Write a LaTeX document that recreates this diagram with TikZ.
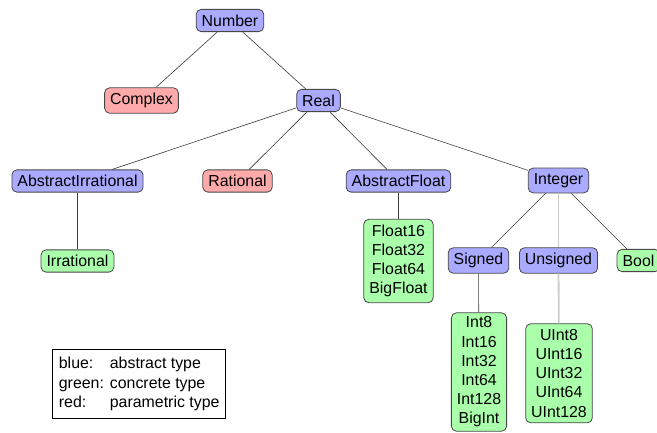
\documentclass[tikz,border=0pt]{standalone}
\usepackage{fontspec}
\setmainfont{Liberation Sans}
\definecolor{cblue}{HTML}{AAAAFF}
\definecolor{cgreen}{HTML}{AAFFAA}
\definecolor{cred}{HTML}{FFAAAA}
\definecolor{cborder}{HTML}{474747}
\definecolor{cedge}{HTML}{3A3A3A}
\definecolor{clight}{HTML}{CCCCCC}
\begin{document}
\begin{tikzpicture}[x=1pt,y=-1pt,
  font=\fontsize{15.9}{19.2}\selectfont,
  typ/.style={draw=cborder, line width=0.8pt, rounded corners=5pt, inner xsep=5.5pt, inner ysep=5.3pt, align=center},
  abs/.style={typ, fill=cblue},
  con/.style={typ, fill=cgreen},
  par/.style={typ, fill=cred},
  edge/.style={draw=cedge, line width=0.6pt},
  ledge/.style={draw=clight, line width=1.8pt}]
\useasboundingbox (0,0) rectangle (657,433);
\node[abs] (number) at (230,20.5) {Number};
\node[par] (complex) at (141.5,100.5) {Complex};
\node[abs] (real) at (318.5,100.5) {Real};
\node[abs] (airr) at (77.5,181) {AbstractIrrational};
\node[par] (rational) at (237.5,181) {Rational};
\node[abs] (afloat) at (398.5,181) {AbstractFloat};
\node[abs] (integer) at (558.5,180.5) {Integer};
\node[con] (irr) at (77.5,261) {Irrational};
\node[con, inner ysep=5.5pt] (floats) at (398.5,261) {Float16\\Float32\\Float64\\BigFloat};
\node[abs] (signed) at (478.5,260.5) {Signed};
\node[abs] (unsigned) at (558.5,260.5) {Unsigned};
\node[con] (bool) at (638.5,260.5) {Bool};
\node[con, inner ysep=4pt] (ints) at (479,372) {Int8\\Int16\\Int32\\Int64\\Int128\\BigInt};
\node[con, inner ysep=5.5pt] (uints) at (559,373.3) {UInt8\\UInt16\\UInt32\\UInt64\\UInt128};
\node[draw=black, line width=1.2pt, align=left, inner xsep=6.3pt, inner ysep=7.8pt, anchor=north west] (legend) at (52,349)
  {\makebox[51pt][l]{blue:}abstract type\\\makebox[51pt][l]{green:}concrete type\\\makebox[51pt][l]{red:}parametric type};
\path[edge] (number) -- (complex);
\path[edge] (number) -- (real);
\path[edge] (real) -- (airr);
\path[edge] (real) -- (rational);
\path[edge] (real) -- (afloat);
\path[edge] (real) -- (integer);
\path[edge] (airr) -- (irr);
\path[edge] (afloat) -- (floats);
\path[edge] (integer) -- (signed);
\path[ledge] (integer) -- (unsigned);
\path[edge] (integer) -- (bool);
\path[edge] (signed) -- (ints);
\path[ledge] (unsigned) -- (uints);
\end{tikzpicture}
\end{document}
